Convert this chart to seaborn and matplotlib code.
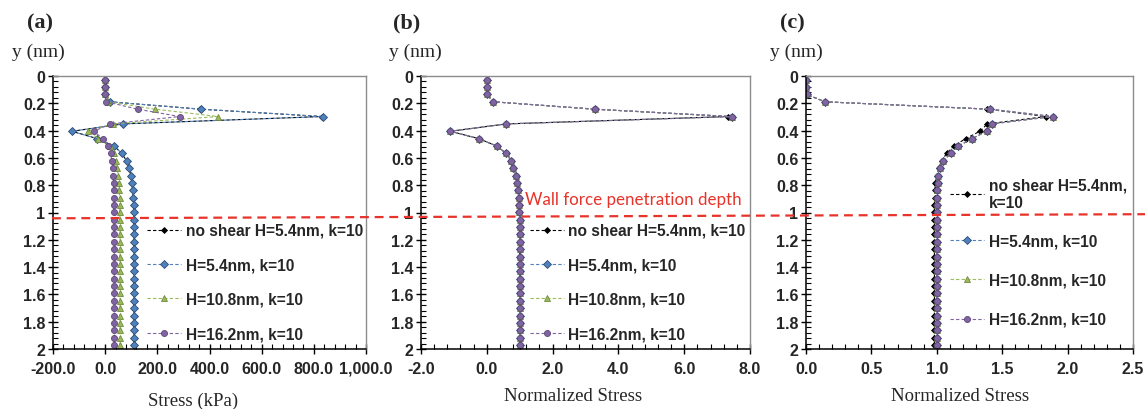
import numpy as np
import pandas as pd
import matplotlib
matplotlib.use("Agg")
import matplotlib.pyplot as plt
from matplotlib.lines import Line2D
from matplotlib.ticker import MultipleLocator, AutoMinorLocator, FuncFormatter
import seaborn as sns

# Bin centres across the channel (nm)
y_nm = [0.027, 0.081, 0.135, 0.189, 0.243, 0.297, 0.351, 0.405, 0.459, 0.513,
        0.567, 0.621, 0.675, 0.729, 0.783, 0.837, 0.891, 0.945, 0.999, 1.053,
        1.107, 1.161, 1.215, 1.269, 1.323, 1.377, 1.431, 1.485, 1.539, 1.593,
        1.647, 1.701, 1.755, 1.809, 1.863, 1.917, 1.971]

labels = ["no shear H=5.4nm, k=10", "H=5.4nm, k=10", "H=10.8nm, k=10", "H=16.2nm, k=10"]

# (a) stress, kPa
stress_noshear = [0, 0, 0, 18, 365, 830, 68, -127, -30, 34, 64, 82, 91, 99, 103, 105, 108, 110, 110,
                  111, 111, 111, 111, 111, 111, 111, 111, 111, 111, 111, 111, 111, 111, 111, 111, 111, 111]
stress_h54 = [0, 0, 0, 18, 368, 835, 67, -128, -30, 34, 64, 82, 91, 99, 103, 105, 108, 109, 110,
              110, 110, 110, 110, 110, 110, 110, 110, 110, 110, 110, 110, 110, 110, 110, 110, 110, 110]
stress_h108 = [0, 0, 0, 11, 191, 433, 31, -65, -26, 18, 35, 41, 46, 50, 53, 54, 55, 56, 56,
               57, 57, 57, 57, 57, 57, 57, 57, 57, 57, 57, 57, 57, 57, 57, 57, 57, 57]
stress_h162 = [0, 0, 0, 5, 124, 286, 18, -43, -10, 9, 21, 26, 30, 31, 32, 33, 34, 34, 35,
               35, 35, 35, 35, 35, 35, 35, 35, 35, 35, 35, 35, 35, 35, 35, 35, 35, 35]

# (b) normalized stress (sheared runs collapse onto one curve)
norm_b = [0, 0, 0, 0.2, 3.29, 7.45, 0.59, -1.11, -0.24, 0.30, 0.59, 0.74, 0.81, 0.89, 0.93, 0.95, 0.97, 0.98, 0.99,
          1.0, 1.0, 1.0, 1.0, 1.0, 1.0, 1.0, 1.0, 1.0, 1.0, 1.0, 1.0, 1.0, 1.0, 1.0, 1.0, 1.0, 1.0]
norm_b_noshear = [0, 0, 0, 0.2, 3.25, 7.33, 0.59, -1.11, -0.24, 0.30, 0.59, 0.74, 0.81, 0.89, 0.93, 0.95, 0.97, 0.98, 0.99,
                  1.0, 1.0, 1.0, 1.0, 1.0, 1.0, 1.0, 1.0, 1.0, 1.0, 1.0, 1.0, 1.0, 1.0, 1.0, 1.0, 1.0, 1.0]

# (c) normalized stress
norm_c = [0, 0, 0.005, 0.145, 1.41, 1.886, 1.42, 1.38, 1.27, 1.165, 1.106, 1.05, 1.025, 1.01, 1.007, 1.0, 1.0, 1.0, 1.0,
          1.0, 1.0, 1.0, 1.0, 1.0, 1.0, 1.0, 1.0, 1.0, 1.0, 1.0, 1.0, 1.0, 1.0, 1.0, 1.0, 1.0, 1.0]
norm_c_noshear = [0, 0, 0.005, 0.145, 1.386, 1.835, 1.386, 1.33, 1.22, 1.13, 1.075, 1.037, 1.015, 1.0, 0.99, 0.986, 0.983, 0.982, 0.982,
                  0.982, 0.982, 0.982, 0.982, 0.982, 0.982, 0.982, 0.982, 0.982, 0.982, 0.982, 0.982, 0.982, 0.982, 0.982, 0.982, 0.982, 0.982]

# series styles: marker, face, edge, line colour, marker size
styles = [
    ("D", "#000000", "#000000", "#000000", 4.0),
    ("D", "#4f81bd", "#2c4d75", "#4f81bd", 5.8),
    ("^", "#9bbb59", "#71893f", "#9bbb59", 5.8),
    ("o", "#8064a2", "#5c4776", "#8064a2", 5.8),
]

sns.set_style("ticks")
plt.rcParams['font.family'] = ['Liberation Sans', 'DejaVu Sans']

fig = plt.figure(figsize=(11.45, 4.10), dpi=100)
W, H = 1145.0, 410.0

def px_axes(x0, x1, y0=77, y1=350):
    return fig.add_axes([x0 / W, 1 - y1 / H, (x1 - x0) / W, (y1 - y0) / H])

ax_a = px_axes(53, 366)
ax_b = px_axes(421, 750)
ax_c = px_axes(806, 1133)

panels = [
    (ax_a, [stress_noshear, stress_h54, stress_h108, stress_h162], (-200, 1000), 200,
     lambda v, p: f"{v:,.1f}"),
    (ax_b, [norm_b_noshear, norm_b, norm_b, norm_b], (-2, 8), 2,
     lambda v, p: f"{v:.1f}"),
    (ax_c, [norm_c_noshear, norm_c, norm_c, norm_c], (0, 2.5), 0.5,
     lambda v, p: f"{v:.1f}"),
]

for ax, series, xlim, xstep, xfmt in panels:
    for vals, lab, (mk, fc, ec, lc, ms) in zip(series, labels, styles):
        df = pd.DataFrame({"x": vals, "y": y_nm})
        sns.lineplot(data=df, x="x", y="y", ax=ax, sort=False, estimator=None,
                     color=lc, linestyle=(0, (3, 2)), linewidth=0.8,
                     marker=mk, markersize=ms, markerfacecolor=fc,
                     markeredgecolor=ec, markeredgewidth=0.6, label=lab)
    ax.set_xlim(*xlim)
    ax.set_ylim(2, 0)
    ax.xaxis.set_major_locator(MultipleLocator(xstep))
    ax.xaxis.set_minor_locator(AutoMinorLocator(5))
    ax.yaxis.set_major_locator(MultipleLocator(0.2))
    ax.yaxis.set_minor_locator(AutoMinorLocator(5))
    ax.xaxis.set_major_formatter(FuncFormatter(xfmt))
    ax.yaxis.set_major_formatter(FuncFormatter(lambda v, p: f"{v:g}"))
    ax.tick_params(which="major", direction="inout", length=7, width=1, color="black",
                   labelsize=11.5)
    ax.tick_params(which="minor", direction="in", length=3.5, width=0.8, color="black")
    ax.tick_params(axis="x", which="major", pad=5)
    ax.tick_params(axis="y", which="major", pad=2)
    for t in ax.get_xticklabels() + ax.get_yticklabels():
        t.set_fontweight("bold")
    ax.set_xlabel("")
    ax.set_ylabel("")
    for side in ["left", "bottom"]:
        ax.spines[side].set_color("black")
        ax.spines[side].set_linewidth(1.1)
    for side in ["top", "right"]:
        ax.spines[side].set_color("#8c8c8c")
        ax.spines[side].set_linewidth(1.0)
    ax.legend_.remove()

legend_font = {"family": ["Liberation Sans", "DejaVu Sans"], "weight": "bold", "size": 11.2}

def add_legend(ax, anchor, spacing, texts):
    handles, _ = ax.get_legend_handles_labels()
    for h in handles:
        h.set_markersize(h.get_markersize() * 0.75)
    ax.legend(handles, texts, loc="center left", bbox_to_anchor=anchor, frameon=False,
              prop=legend_font, handlelength=2.2, handletextpad=0.3, borderpad=0,
              borderaxespad=0, labelspacing=spacing)

add_legend(ax_a, (0.30, 0.245), 1.25, labels)
add_legend(ax_b, (0.33, 0.245), 1.25, labels)
add_legend(ax_c, (0.44, 0.355), 1.55, ["no shear H=5.4nm,\nk=10"] + labels[1:])

# panel tags, y-axis titles and x-axis titles
serif = ["Liberation Serif", "DejaVu Serif"]
for xc, tag in [(40, "(a)"), (407, "(b)"), (792, "(c)")]:
    fig.text(xc / W, 1 - 23 / H, tag, ha="center", va="center", family=serif,
             fontweight="bold", fontsize=16)
for xc in [38.5, 415.5, 796.5]:
    fig.text(xc / W, 1 - 52 / H, "y (nm)", ha="center", va="center", family=serif, fontsize=14)
for xc, yc, txt in [(193, 401, "Stress (kPa)"), (573, 397, "Normalized Stress"),
                    (960, 397, "Normalized Stress")]:
    fig.text(xc / W, 1 - yc / H, txt, ha="center", va="center", family=serif, fontsize=13.5)

# wall force penetration depth marker, drawn across the whole figure
fig.add_artist(Line2D([52 / W, 1.0], [1 - 219.3 / H, 1 - 215.2 / H], transform=fig.transFigure,
                      color="#e8332a", linewidth=1.6, linestyle=(0, (4, 2.6))))
fig.text(633 / W, 1 - 200 / H, "Wall force penetration depth", ha="center", va="center",
         color="#e8332a", family=["Lato", "DejaVu Sans"], fontsize=12.2)

fig.savefig("out.png", dpi=100)
